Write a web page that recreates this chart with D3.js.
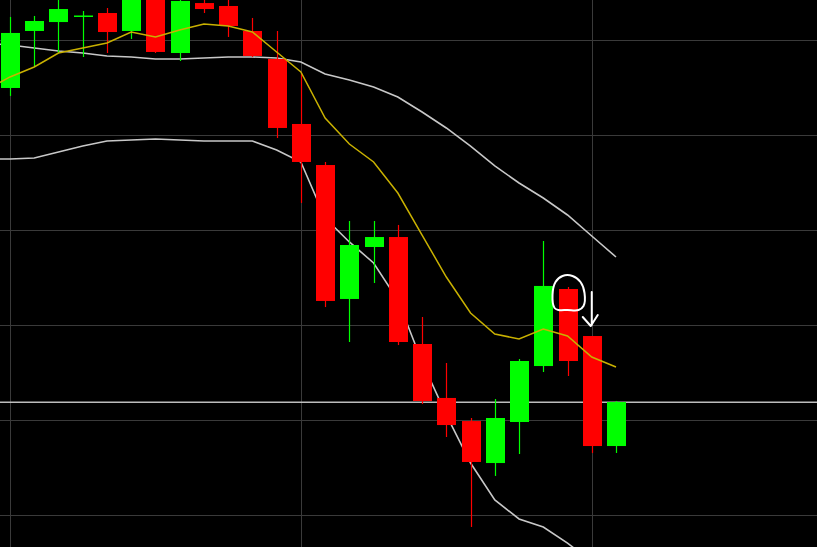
<!DOCTYPE html>
<html>
<head>
<meta charset="utf-8">
<script src="https://cdn.jsdelivr.net/npm/d3@7"></script>
<style>
  html, body { margin: 0; padding: 0; background: #000; }
  svg { display: block; }
</style>
</head>
<body>
<svg id="chart" width="817" height="547"></svg>
<script>
// ---- data (prices) ----
const openP  = [144.95,150.95,151.89,152.47,152.84,150.95,155.79,148.63,153.89,153.58,150.95,148.00,141.16,136.84,122.74,128.21,129.26,118.00,112.32,109.89,105.47,109.79,115.68,123.79,118.84,107.26];
const highP  = [152.42,152.53,154.53,153.05,153.37,156.32,156.84,154.74,154.74,154.53,152.32,150.95,146.53,137.16,130.95,130.95,130.53,120.84,116.00,110.21,112.21,116.42,128.84,124.00,118.84,112.00];
const lowP   = [144.11,147.16,148.63,148.21,148.63,150.11,148.63,147.79,152.84,150.32,148.21,139.68,132.84,121.89,118.21,124.42,117.89,111.68,108.21,98.74,104.11,106.42,115.05,114.63,106.53,106.53];
const closeP = [150.74,152.00,153.26,152.58,150.84,155.26,148.74,154.11,153.26,151.47,148.32,140.74,137.16,122.53,128.42,129.26,118.21,112.00,109.47,105.58,110.21,116.21,124.11,116.21,107.26,111.89];

// Bollinger bands, first value belongs to the bar before the first visible candle
const bandStart = -1;
const upperBand  = [149.68,149.47,149.16,148.84,148.63,148.32,148.21,148.00,148.00,148.11,148.21,148.21,148.11,147.68,146.42,145.79,145.05,144.00,142.42,140.74,138.84,136.74,134.95,133.37,131.58,129.37,127.16];
const middleBand = [144.74,146.11,147.16,148.63,149.16,149.68,150.84,150.32,151.05,151.68,151.47,150.84,148.74,146.63,141.79,139.05,137.16,133.89,129.47,125.05,121.26,119.05,118.53,119.58,118.84,116.63,115.58];
const lowerBand  = [137.47,137.47,137.58,138.21,138.84,139.37,139.47,139.58,139.47,139.37,139.37,139.37,138.42,137.16,131.26,128.74,126.53,122.63,116.11,110.53,105.47,101.58,99.58,98.74,97.05,95.05,93.16];

const priceGrid = [150,140,130,120,110,100];
const timeGrid  = [0,12,24];
const levelPrice = 111.86;
const markedCandle = 23;   // circled candle
const arrowCandle  = 24;   // candle under the arrow

// ---- drawing ----
const W = 817, H = 547;
const svg = d3.select("#chart");
svg.append("rect").attr("width", W).attr("height", H).attr("fill", "#000");

const x = d3.scaleLinear().domain([0, 25]).range([10, 616]);
const y = d3.scaleLinear().domain([150, 100]).range([40, 515]);
const bodyW = 19;

const g = svg.append("g");

// grid
g.selectAll("line.hgrid").data(priceGrid).join("line")
  .attr("x1", 0).attr("x2", W)
  .attr("y1", d => Math.round(y(d)) + 0.5).attr("y2", d => Math.round(y(d)) + 0.5)
  .attr("stroke", "#3a3a3a").attr("stroke-width", 1);
g.selectAll("line.vgrid").data(timeGrid).join("line")
  .attr("y1", 0).attr("y2", H)
  .attr("x1", d => Math.round(x(d)) + 0.5).attr("x2", d => Math.round(x(d)) + 0.5)
  .attr("stroke", "#3a3a3a").attr("stroke-width", 1);

// level line
g.append("line")
  .attr("x1", 0).attr("x2", W)
  .attr("y1", y(levelPrice)).attr("y2", y(levelPrice))
  .attr("stroke", "#bdbdbd").attr("stroke-width", 1.5);

// bands
const bandLine = d3.line().x((d, i) => x(i + bandStart)).y(d => y(d));
g.append("path").datum(upperBand).attr("d", bandLine)
  .attr("fill", "none").attr("stroke", "#c8c8c8").attr("stroke-width", 1.6);
g.append("path").datum(lowerBand).attr("d", bandLine)
  .attr("fill", "none").attr("stroke", "#c8c8c8").attr("stroke-width", 1.6);

// candles
const candles = openP.map((o, i) => ({ i, o, h: highP[i], l: lowP[i], c: closeP[i] }));
const col = d => d.c >= d.o ? "#00ff00" : "#ff0000";
const cg = g.append("g");
cg.selectAll("line.wick").data(candles).join("line")
  .attr("x1", d => Math.round(x(d.i)) + 0.5).attr("x2", d => Math.round(x(d.i)) + 0.5)
  .attr("y1", d => y(d.h)).attr("y2", d => y(d.l))
  .attr("stroke", col).attr("stroke-width", 1.2);
cg.selectAll("rect.body").data(candles).join("rect")
  .attr("x", d => Math.round(x(d.i)) + 0.5 - bodyW / 2)
  .attr("width", bodyW)
  .attr("y", d => y(Math.max(d.o, d.c)))
  .attr("height", d => Math.max(1.5, Math.abs(y(d.o) - y(d.c))))
  .attr("fill", col);

// middle band (drawn above candles)
g.append("path").datum(middleBand).attr("d", bandLine)
  .attr("fill", "none").attr("stroke", "#c9b100").attr("stroke-width", 1.5);

// hand-drawn annotations
const cx = x(markedCandle), cy = y(openP[markedCandle]);
const loopPts = [[-13,19],[-15,6],[-12,-7],[-5,-13],[5,-13],[13,-7],[17,4],[16,17],[11,21],[0,21],[-9,21]]
  .map(p => [cx + p[0], cy + p[1]]);
g.append("path")
  .attr("d", d3.line().curve(d3.curveCatmullRomClosed)(loopPts))
  .attr("fill", "none").attr("stroke", "#fff").attr("stroke-width", 2);

const ax = x(arrowCandle), ay = y(highP[arrowCandle]);
g.append("path")
  .attr("d", `M${ax},${ay - 44}L${ax},${ay - 11}M${ax - 9},${ay - 19}L${ax - 1},${ay - 10}L${ax + 6},${ay - 21}`)
  .attr("fill", "none").attr("stroke", "#fff").attr("stroke-width", 2)
  .attr("stroke-linecap", "round").attr("stroke-linejoin", "round");
</script>
</body>
</html>
